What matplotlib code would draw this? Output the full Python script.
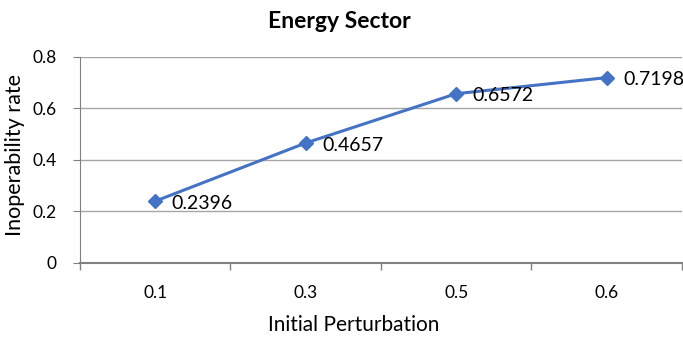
import matplotlib.pyplot as plt
import numpy as np

plt.rcParams["font.family"] = ["Lato", "DejaVu Sans"]

categories = ["0.1", "0.3", "0.5", "0.6"]
inoperability = [0.2396, 0.4657, 0.6572, 0.7198]
y_ticks = [0, 0.2, 0.4, 0.6, 0.8]

fig = plt.figure(figsize=(6.83, 3.37), dpi=100)
ax = fig.add_axes([0.117, 0.22, 0.8815, 0.611])

x = np.arange(len(categories))
ax.plot(x, inoperability, color="#4472C4", linewidth=2.2, marker="D", markersize=7)

for xi, v in zip(x, inoperability):
    ax.annotate(f"{v:.4f}", (xi, v), xytext=(12, -1.5), textcoords="offset points",
                ha="left", va="center", fontsize=14)

ax.set_xlim(-0.5, len(categories) - 0.5)
ax.set_ylim(0, 0.8)
ax.set_yticks(y_ticks)
ax.set_yticklabels(["0", "0.2", "0.4", "0.6", "0.8"], fontsize=12.5)
ax.yaxis.grid(True, color="#A6A6A6", linewidth=1)
ax.set_axisbelow(True)

# category labels centred, tick marks at the boundaries
ax.set_xticks(x)
ax.set_xticklabels(categories, fontsize=12.5)
ax.tick_params(axis="x", length=0, pad=16)
ax.set_xticks(np.arange(-0.5, len(categories)), minor=True)
ax.tick_params(axis="x", which="minor", length=5, color="#808080", width=1)
ax.tick_params(axis="y", length=5, color="#808080", pad=12)

for side in ["top", "right"]:
    ax.spines[side].set_visible(False)
ax.spines["left"].set_color("#808080")
ax.spines["bottom"].set_color("#808080")
ax.spines["bottom"].set_linewidth(1.5)

fig.text(0.497, 0.935, "Energy Sector", fontsize=16.5, fontweight="bold",
         ha="center", va="center")
fig.text(0.518, 0.035, "Initial Perturbation", fontsize=15, ha="center", va="center")
fig.text(0.022, 0.54, "Inoperability rate", fontsize=15.5, rotation=90,
         ha="center", va="center")

fig.savefig("out.png", dpi=100)
